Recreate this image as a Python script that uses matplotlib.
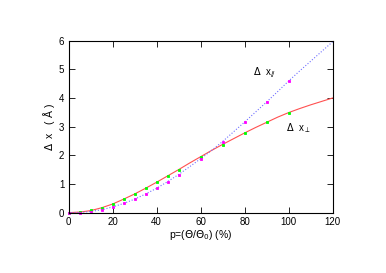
import matplotlib
matplotlib.use("Agg")
import matplotlib.pyplot as plt

# measured points
p_para = [0, 5, 10, 15, 20, 25, 30, 35, 40, 45, 50, 60, 70, 80, 90, 100]
dx_para = [0.0, 0.0, 0.04, 0.1, 0.2, 0.33, 0.47, 0.66, 0.85, 1.08, 1.33, 1.87, 2.48, 3.16, 3.86, 4.59]
p_perp = [0, 5, 10, 15, 20, 25, 30, 35, 40, 45, 50, 60, 70, 80, 90, 100]
dx_perp = [0.0, 0.02, 0.08, 0.17, 0.3, 0.47, 0.65, 0.85, 1.06, 1.27, 1.5, 1.95, 2.37, 2.79, 3.16, 3.49]

# fitted curves
p_fit = [0, 5, 10, 15, 20, 25, 30, 35, 40, 45, 50, 55, 60, 65, 70, 75, 80, 85, 90, 95, 100, 105, 110, 115, 120]
fit_para = [0.0, 0.01, 0.04, 0.1, 0.2, 0.32, 0.47, 0.65, 0.85, 1.08, 1.33, 1.6, 1.88, 2.17, 2.48, 2.82, 3.16, 3.51, 3.86, 4.22, 4.59, 4.94, 5.28, 5.62, 5.96]
fit_perp = [0.0, 0.02, 0.07, 0.17, 0.3, 0.47, 0.65, 0.85, 1.06, 1.28, 1.5, 1.73, 1.95, 2.17, 2.38, 2.58, 2.78, 2.97, 3.15, 3.33, 3.49, 3.63, 3.76, 3.88, 4.0]

plt.rcParams['font.family'] = ['Liberation Sans', 'DejaVu Sans']
fig = plt.figure(figsize=(3.86, 2.73), dpi=100)
ax = fig.add_axes([0.1775, 0.221, 0.684, 0.630])

ax.plot(p_fit, fit_perp, '-', color='#ff5050', lw=0.8)
ax.plot(p_fit, fit_para, ':', color='#7070ff', lw=0.8)
ax.plot(p_perp, dx_perp, 's', color='#00ff00', ms=1.5, mew=0.6, mec='#00ff00', clip_on=False)
ax.plot(p_para, dx_para, 's', color='#ff00ff', ms=1.5, mew=0.6, mec='#ff00ff', clip_on=False)

ax.text(84, 4.85, r'$\Delta$  x$_{/\!/}$', fontsize=7, va='center')
ax.text(99, 2.95, r'$\Delta$  x$_{\perp}$', fontsize=7, va='center')

ax.set_xlim(0, 120)
ax.set_ylim(0, 6)
ax.set_xticks([0, 20, 40, 60, 80, 100, 120])
ax.set_yticks([0, 1, 2, 3, 4, 5, 6])
ax.tick_params(direction='in', top=True, right=True, labelsize=7, length=4, width=0.6, pad=3)
for s in ax.spines.values():
    s.set_linewidth(0.8)
ax.set_xlabel(r'p=($\Theta$/$\Theta_0$) (%)', fontsize=7.5, labelpad=1)
ax.set_ylabel(r'$\Delta$  x   ( $\mathrm{\AA}$ )', fontsize=7.5, labelpad=1)

fig.savefig('out.png', dpi=100)
